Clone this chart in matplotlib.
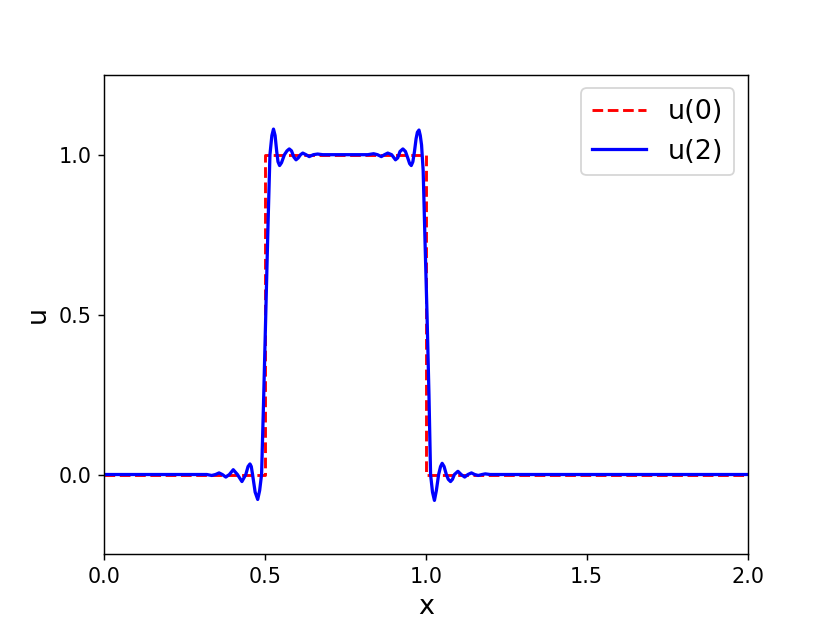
import matplotlib
matplotlib.use("Agg")
import matplotlib.pyplot as plt

# initial condition u(0)
x0 = [0.0, 0.5, 0.5, 1.0, 1.0, 2.0]
u0 = [0.0, 0.0, 1.0, 1.0, 0.0, 0.0]

# u(2)
x2 = [0.0, 0.30, 0.32, 0.335, 0.347, 0.358, 0.368, 0.379, 0.390, 0.402, 0.415,
      0.429, 0.441, 0.448, 0.454, 0.458, 0.462, 0.470, 0.478, 0.484, 0.490,
      0.496, 0.503, 0.510, 0.516, 0.522, 0.527, 0.532, 0.537, 0.541, 0.546,
      0.552, 0.561, 0.569, 0.576, 0.583, 0.590, 0.597, 0.604, 0.611, 0.618,
      0.628, 0.638, 0.651, 0.664, 0.68, 0.70, 0.75, 0.80,
      0.82, 0.838, 0.850, 0.862, 0.872, 0.882, 0.894, 0.906, 0.913, 0.920,
      0.929, 0.937, 0.944, 0.950, 0.955, 0.960, 0.965, 0.970, 0.974, 0.979,
      0.983, 0.987, 0.992, 0.998, 1.004, 1.010, 1.015, 1.021, 1.027, 1.033,
      1.040, 1.046, 1.051, 1.057, 1.064, 1.070, 1.077, 1.083, 1.089, 1.100,
      1.110, 1.121, 1.131, 1.142, 1.152, 1.163, 1.175, 1.185, 1.20, 1.40, 2.0]
u2 = [0.0, 0.0, 0.0, -0.003, 0.0, 0.005, 0.0, -0.008, 0.0, 0.015, 0.0,
      -0.022, 0.0, 0.025, 0.033, 0.025, 0.0, -0.055, -0.078, -0.05, 0.0,
      0.22, 0.5, 0.78, 1.0, 1.06, 1.08, 1.06, 1.01, 0.978, 0.966,
      0.975, 1.0, 1.012, 1.018, 1.012, 0.993, 0.984, 0.99, 1.0, 1.005,
      1.0, 0.994, 1.0, 1.002, 1.0, 1.0, 1.0, 1.0,
      1.0, 1.003, 1.0, 0.994, 1.0, 1.005, 1.0, 0.984, 0.99, 1.01,
      1.018, 1.01, 0.99, 0.972, 0.966, 0.978, 1.01, 1.05, 1.07, 1.077,
      1.06, 1.03, 0.95, 0.72, 0.5, 0.25, 0.0, -0.055, -0.081, -0.05,
      0.0, 0.025, 0.035, 0.025, 0.0, -0.015, -0.022, -0.015, 0.0, 0.010,
      0.0, -0.008, 0.0, 0.005, 0.0, -0.003, 0.0, 0.002, 0.0, 0.0, 0.0]

xticks = [0.0, 0.5, 1.0, 1.5, 2.0]
yticks = [0.0, 0.5, 1.0]

fig, ax = plt.subplots(figsize=(6.4, 4.8), dpi=129.8)
ax.plot(x0, u0, 'r--', lw=1.6, label='u(0)')
ax.plot(x2, u2, 'b-', lw=1.8, label='u(2)')
ax.set_xlim(0, 2)
ax.set_ylim(-0.25, 1.25)
ax.set_xticks(xticks)
ax.set_yticks(yticks)
ax.tick_params(labelsize=11.5)
ax.set_xlabel('x', fontsize=15)
ax.set_ylabel('u', fontsize=15)
ax.legend(fontsize=15, loc='upper right')
fig.savefig('out.png', dpi=129.8)
